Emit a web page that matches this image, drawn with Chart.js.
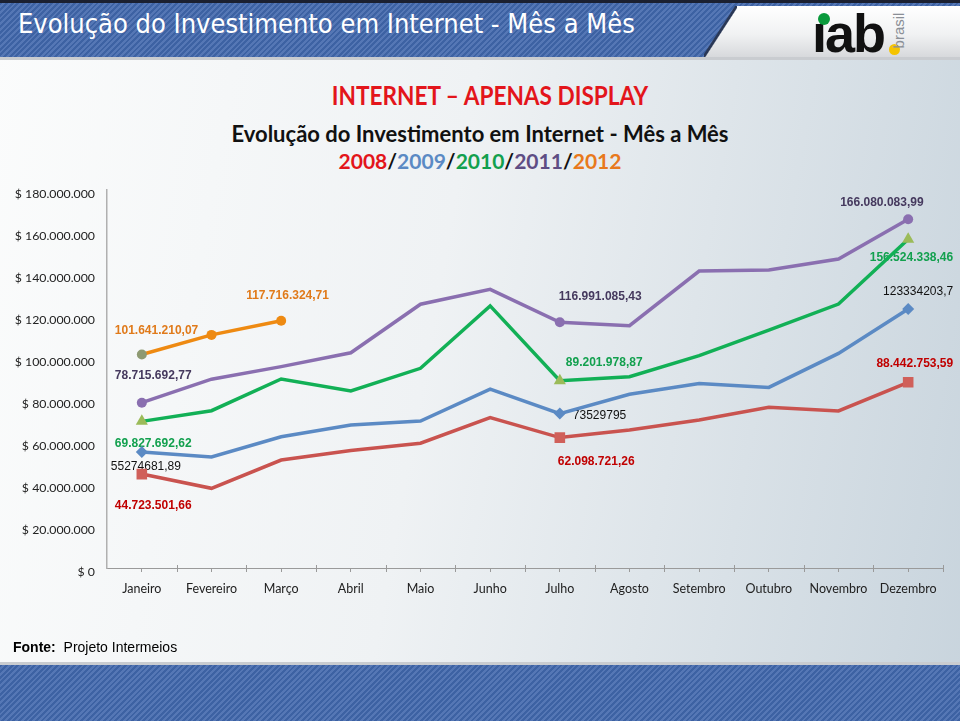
<!DOCTYPE html>
<html>
<head>
<meta charset="utf-8">
<script src="https://cdn.jsdelivr.net/npm/chart.js@4"></script>
<style>
  html, body { margin: 0; padding: 0; }
  body {
    width: 960px; height: 721px; position: relative; overflow: hidden;
    background: linear-gradient(100deg, #fbfcfc 0%, #eff2f4 45%, #c8d4dd 100%);
    font-family: Lato, sans-serif;
  }
  .stripes {
    background: repeating-linear-gradient(135deg, #3d62a3 0px, #3d62a3 2px, #5577b5 2px, #5577b5 4px);
  }
  #header { position: absolute; left: 0; top: 0; width: 960px; height: 57px; border-top: 3px solid #1b2030; box-sizing: border-box; }
  #header-shadow { position: absolute; left: 0; top: 57px; width: 960px; height: 3px; background: #c9ccd0; }
  #header-title {
    position: absolute; left: 18px; top: 8px; color: #fff;
    font-family: 'DejaVu Sans Condensed', 'Liberation Sans Narrow', sans-serif;
    font-size: 27px; white-space: nowrap;
  }
  #logo-panel {
    position: absolute; left: 0; top: 6px; width: 960px; height: 51px;
    background: linear-gradient(180deg, #ffffff 0%, #f1f2f3 55%, #d7d9dc 100%);
    clip-path: polygon(736px 0, 960px 0, 960px 51px, 704px 51px);
  }
  #logo-edge {
    position: absolute; left: 704px; top: 6px; width: 33px; height: 51px;
    background: linear-gradient(to bottom right, transparent 46%, #2a3856 48%, #2a3856 51%, transparent 53%);
  }
  #iab { position: absolute; left: 812px; top: 2px; font-family: 'Liberation Sans', Arial, sans-serif; font-weight: bold; font-size: 54px; color: #111; letter-spacing: -2px; }
  #iab-dot { position: absolute; left: 818px; top: 13px; width: 12px; height: 12px; border-radius: 50%; background: #0a9a3c; }
  #iab-yellow { position: absolute; left: 889px; top: 44px; width: 11px; height: 11px; border-radius: 50%; background: #f5c400; }
  #brasil { position: absolute; left: 881px; top: 22px; transform: rotate(-90deg); font-family: 'Liberation Sans', Arial, sans-serif; font-size: 15px; color: #8a8f96; }
  .title { position: absolute; white-space: nowrap; font-family: Lato, sans-serif; font-weight: bold; }
  #t1 { left: 490px; top: 79px; font-size: 26px; color: #e3151b; transform: translateX(-50%) scaleX(0.87); }
  #t2 { left: 480px; top: 120px; font-size: 22px; color: #111; transform: translateX(-50%); }
  #t3 { left: 480px; top: 148px; font-size: 21px; color: #111; transform: translateX(-50%); }
  #footer-text { position: absolute; left: 13px; top: 639px; font-family: 'Liberation Sans', Arial, sans-serif; font-size: 14px; color: #000; }
  #footer-line { position: absolute; left: 0; top: 662px; width: 960px; height: 3px; background: #c9ccd0; }
  #footer { position: absolute; left: 0; top: 665px; width: 960px; height: 56px; }
  #chart-wrap { position: absolute; left: 0; top: 0; width: 960px; height: 721px; }
</style>
</head>
<body>
<div id="header" class="stripes"></div>
<div id="header-shadow"></div>
<div id="header-title">Evolução do Investimento em Internet - Mês a Mês</div>
<div id="logo-panel"></div>
<div id="logo-edge"></div>
<div id="iab">ıab</div>
<div id="iab-dot"></div>
<div id="iab-yellow"></div>
<div id="brasil">brasil</div>

<div class="title" id="t1">INTERNET – APENAS DISPLAY</div>
<div class="title" id="t2">Evolução do Investimento em Internet - Mês a Mês</div>
<div class="title" id="t3"><span style="color:#e3151b">2008</span>/<span style="color:#5b8ac4">2009</span>/<span style="color:#12a04e">2010</span>/<span style="color:#5e4d84">2011</span>/<span style="color:#e8791c">2012</span></div>

<div id="chart-wrap"><canvas id="chart"></canvas></div>

<div id="footer-text"><b>Fonte:</b>&nbsp; Projeto Intermeios</div>
<div id="footer-line"></div>
<div id="footer" class="stripes"></div>

<script>
// Categories and values (R$)
const months = ['Janeiro', 'Fevereiro', 'Março', 'Abril', 'Maio', 'Junho', 'Julho', 'Agosto', 'Setembro', 'Outubro', 'Novembro', 'Dezembro'];
const inv2008 = [44723501.66, 37950000, 51400000, 55900000, 59400000, 71600000, 62098721.26, 65700000, 70500000, 76500000, 74800000, 88442753.59];
const inv2009 = [55274681.89, 52900000, 62500000, 68100000, 70000000, 85200000, 73529795, 82700000, 87800000, 86000000, 102200000, 123334203.7];
const inv2010 = [69827692.62, 74900000, 90000000, 84300000, 95100000, 124800000, 89201978.87, 91100000, 101100000, 113300000, 125700000, 156524338.46];
const inv2011 = [78715692.77, 89900000, 95900000, 102500000, 125600000, 132700000, 116991085.43, 115400000, 141400000, 141900000, 147100000, 166080083.99];
const inv2012 = [101641210.07, 111000000, 117716324.71, null, null, null, null, null, null, null, null, null];
const yMax = 180000000;
const yStep = 20000000;

// number formats used on the labels
function fmtBR(v) {
    const parts = v.toFixed(2).split('.');
    return parts[0].replace(/\B(?=(\d{3})+(?!\d))/g, '.') + ',' + parts[1];
}
function fmtRaw(v) {
    return String(v).replace('.', ',');
}

// markers only on some months
const mk = (r, idx) => months.map((m, i) => idx.includes(i) ? r : 0);

// where each series puts its value labels (offsets from the point)
const labelStyle = [
    { color: '#c00000', bold: true, fmt: fmtBR, spots: [{ i: 0, dx: -27, dy: 32, align: 'left' }, { i: 6, dx: -2, dy: 24, align: 'left' }, { i: 11, dx: 45, dy: -19, align: 'right' }] },
    { color: '#111111', bold: false, fmt: fmtRaw, spots: [{ i: 0, dx: -31, dy: 15, align: 'left' }, { i: 6, dx: 13, dy: 2, align: 'left' }, { i: 11, dx: 45, dy: -17, align: 'right' }] },
    { color: '#12a04e', bold: true, fmt: fmtBR, spots: [{ i: 0, dx: -27, dy: 22, align: 'left' }, { i: 6, dx: 6, dy: -18, align: 'left' }, { i: 11, dx: 45, dy: 18, align: 'right' }] },
    { color: '#45395e', bold: true, fmt: fmtBR, spots: [{ i: 0, dx: -27, dy: -27, align: 'left' }, { i: 6, dx: -1, dy: -26, align: 'left' }, { i: 11, dx: -68, dy: -17, align: 'left' }] },
    { color: '#e07a1a', bold: true, fmt: fmtBR, spots: [{ i: 0, dx: -27, dy: -24, align: 'left' }, { i: 2, dx: -35, dy: -25, align: 'left' }] }
];

const valueLabels = {
    id: 'valueLabels',
    beforeDatasetsDraw(chart) {
        const ctx = chart.ctx;
        ctx.save();
        ctx.textBaseline = 'middle';
        chart.data.datasets.forEach((ds, d) => {
            const st = labelStyle[d];
            const meta = chart.getDatasetMeta(d);
            ctx.fillStyle = st.color;
            ctx.font = (st.bold ? 'bold ' : '') + '12px "Liberation Sans", Arial, sans-serif';
            st.spots.forEach(s => {
                const p = meta.data[s.i];
                ctx.textAlign = s.align;
                ctx.fillText(st.fmt(ds.data[s.i]), p.x + s.dx, p.y + s.dy);
            });
        });
        ctx.restore();
    },
    afterDraw(chart) {
        // tick marks between the months too
        const x = chart.scales.x;
        const ctx = chart.ctx;
        ctx.save();
        ctx.strokeStyle = '#9a9a9a';
        ctx.lineWidth = 1;
        for (let i = 0; i < months.length; i++) {
            const px = x.getPixelForValue(i) + x.width / months.length / 2;
            ctx.beginPath();
            ctx.moveTo(Math.round(px) + 0.5, x.top - 3);
            ctx.lineTo(Math.round(px) + 0.5, x.top + 4);
            ctx.stroke();
        }
        ctx.restore();
    }
};

const ctx = document.getElementById('chart').getContext('2d');
new Chart(ctx, {
    type: 'line',
    data: {
        labels: months,
        datasets: [
            { label: '2008', data: inv2008, borderColor: '#c9534f', backgroundColor: '#d0605a', pointStyle: 'rect', pointRadius: mk(7.5, [0, 6, 11]) },
            { label: '2009', data: inv2009, borderColor: '#5b8ac4', backgroundColor: '#5b8ac4', pointStyle: 'rectRot', pointRadius: mk(6, [0, 6, 11]) },
            { label: '2010', data: inv2010, borderColor: '#12b056', backgroundColor: '#9bbb59', pointStyle: 'triangle', pointRadius: mk(7, [0, 6, 11]) },
            { label: '2011', data: inv2011, borderColor: '#8a6fb0', backgroundColor: '#8a6fb0', pointStyle: 'circle', pointRadius: mk(5, [0, 6, 11]) },
            { label: '2012', data: inv2012, borderColor: '#ee8a12', backgroundColor: ['#8e9a72', '#ee8a12', '#ee8a12'], pointStyle: 'circle', pointRadius: 5 }
        ]
    },
    options: {
        responsive: true,
        maintainAspectRatio: false,
        animation: false,
        layout: { padding: { top: 190, right: 17, bottom: 113, left: 0 } },
        elements: {
            line: { borderWidth: 3.5, tension: 0 },
            point: { borderWidth: 0, hoverRadius: 0 }
        },
        scales: {
            x: {
                offset: true,
                afterFit: s => { s.height = 40; },
                border: { display: true, color: '#9a9a9a', width: 1 },
                grid: { display: true, drawOnChartArea: false, offset: false, tickLength: 4, color: '#9a9a9a' },
                ticks: { color: '#222', padding: 9, font: { family: 'Lato', size: 12.5 }, maxRotation: 0, autoSkip: false }
            },
            y: {
                min: 0,
                max: yMax,
                afterFit: s => { s.width = 107; },
                border: { display: true, color: '#b0b0b0', width: 1.5 },
                grid: { display: false },
                ticks: {
                    stepSize: yStep,
                    color: '#222',
                    padding: 4,
                    labelOffset: 4,
                    font: { family: 'Lato', size: 12.3 },
                    callback: v => '$ ' + (v === 0 ? '0' : String(v).replace(/\B(?=(\d{3})+(?!\d))/g, '.'))
                }
            }
        },
        plugins: {
            legend: { display: false },
            tooltip: { enabled: false }
        }
    },
    plugins: [valueLabels]
});
</script>
</body>
</html>
